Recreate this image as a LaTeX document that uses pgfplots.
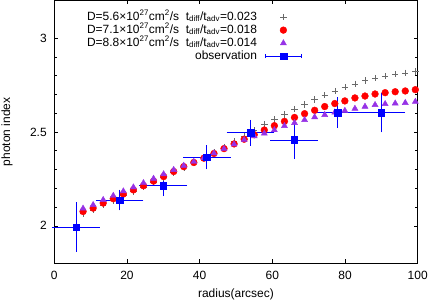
\documentclass[border=0pt]{standalone}
\usepackage{fontspec}
\setmainfont{Liberation Sans}
\usepackage{pgfplots}
\usepackage{pgfplotstable}
\pgfplotsset{compat=1.18}
\definecolor{plusgray}{RGB}{105,105,105}
\definecolor{tri}{RGB}{150,50,230}

\pgfplotstableread{
x y
7.94 2.066
10.71 2.085
13.48 2.111
16.25 2.135
19.02 2.160
21.79 2.183
24.56 2.207
27.33 2.232
30.10 2.257
32.87 2.284
35.64 2.310
38.41 2.336
41.18 2.363
43.95 2.391
46.72 2.419
49.49 2.448
52.26 2.478
55.03 2.508
57.80 2.539
60.57 2.567
63.34 2.593
66.11 2.621
68.88 2.646
71.65 2.672
74.42 2.695
77.19 2.718
79.96 2.738
82.73 2.756
85.50 2.774
88.27 2.787
91.04 2.798
93.81 2.807
96.58 2.815
99.35 2.821
}\plusdata

\pgfplotstableread{
x y
7.94 2.076
10.71 2.094
13.48 2.121
16.25 2.144
19.02 2.169
21.79 2.191
24.56 2.213
27.33 2.238
30.10 2.262
32.87 2.289
35.64 2.315
38.41 2.337
41.18 2.360
43.95 2.385
46.72 2.411
49.49 2.436
52.26 2.461
55.03 2.485
57.80 2.510
60.57 2.533
63.34 2.556
66.11 2.577
68.88 2.597
71.65 2.615
74.42 2.635
77.19 2.651
79.96 2.665
82.73 2.681
85.50 2.691
88.27 2.702
91.04 2.709
93.81 2.714
96.58 2.718
99.35 2.725
}\reddata

\pgfplotstableread{
x y
7.94 2.092
10.71 2.111
13.48 2.138
16.25 2.160
19.02 2.184
21.79 2.205
24.56 2.228
27.33 2.251
30.10 2.275
32.87 2.298
35.64 2.320
38.41 2.341
41.18 2.362
43.95 2.386
46.72 2.410
49.49 2.434
52.26 2.457
55.03 2.477
57.80 2.492
60.57 2.510
63.34 2.532
66.11 2.548
68.88 2.564
71.65 2.579
74.42 2.591
77.19 2.604
79.96 2.613
82.73 2.624
85.50 2.635
88.27 2.644
91.04 2.649
93.81 2.652
96.58 2.655
99.35 2.661
}\tridata

\pgfplotstableread{
x y ex ey
6 1.993 6 0.122
18 2.137 6 0.045
30 2.213 6 0.044
42 2.365 6 0.054
54 2.496 6 0.058
66 2.457 6 0.090
78 2.603 6 0.070
90 2.603 6 0.095
}\obsdata

\pgfplotsset{
  markimg/.style={legend image code/.code={
    \path[draw=none,fill=none] (0bp,-3bp) rectangle (36.6bp,3bp);
    \draw plot coordinates {(18.3bp,0bp)};}},
}

\begin{document}
\begin{tikzpicture}
\begin{axis}[
  scale only axis, width=363.5bp, height=262.8bp,
  xmin=0, xmax=100, ymin=1.8, ymax=3.2,
  xtick={0,20,...,100}, ytick={2,2.5,3}, minor y tick num=4,
  tick align=inside, major tick length=4bp, minor tick length=2.5bp,
  axis line style={line width=0.8bp},
  every tick/.style={black, line width=0.5bp},
  tick label style={font=\fontsize{12}{14}\selectfont},
  xticklabel style={yshift=-4.5bp},
  yticklabel style={xshift=-4bp},
  /pgf/number format/assume math mode=true,
  xlabel={radius(arcsec)}, ylabel={photon index},
  label style={font=\fontsize{12}{14}\selectfont},
  xlabel style={at={(axis description cs:0.5,-0.118)}, anchor=center},
  ylabel style={at={(axis description cs:-0.13,0.5)}, anchor=center},
  clip=false,
  legend plot pos=right,
  legend cell align=right,
  legend style={draw=none, fill=none, at={(axis cs:68.25,3.142)}, anchor=north east,
    font=\fontsize{12}{13}\selectfont, inner sep=0pt, row sep=1.9bp, column sep=7.7bp,
    nodes={inner sep=0pt, text height=8.6bp, text depth=2.5bp}},
]
\addplot[only marks, mark=+, mark size=3.2bp, plusgray, mark options={line width=0.5bp}, markimg]
  table[x=x,y=y] {\plusdata};
\addlegendentry{D=5.6×10\textsuperscript{27}cm\textsuperscript{2}/s\ \ t\textsubscript{diff}/t\textsubscript{adv}=0.023}
\addplot[only marks, mark=*, mark size=3.4bp, red, mark options={draw=red, fill=red}, markimg]
  table[x=x,y=y] {\reddata};
\addlegendentry{D=7.1×10\textsuperscript{27}cm\textsuperscript{2}/s\ \ t\textsubscript{diff}/t\textsubscript{adv}=0.018}
\addplot[only marks, mark=triangle*, mark size=3.5bp, tri, mark options={draw=tri, fill=tri}, markimg]
  table[x=x,y=y] {\tridata};
\addlegendentry{D=8.8×10\textsuperscript{27}cm\textsuperscript{2}/s\ \ t\textsubscript{diff}/t\textsubscript{adv}=0.014}
\addplot[only marks, mark=square*, mark size=3.3bp, blue, mark options={draw=blue, fill=blue},
  error bars/.cd, x dir=both, x explicit, y dir=both, y explicit,
  error bar style={line width=0.8bp, blue},
  error mark options={blue, mark size=2bp, line width=0.8bp},
  /pgfplots/legend image code/.code={
    \draw[blue, line width=0.8bp] (0bp,0bp) -- (36.6bp,0bp);
    \draw[blue, line width=0.8bp] (0bp,-2bp) -- (0bp,2bp) (36.6bp,-2bp) -- (36.6bp,2bp);
    \fill[blue] (14.9bp,-3.3bp) rectangle (21.7bp,3.3bp);},
  ]
  table[x=x,y=y,x error=ex,y error=ey] {\obsdata};
\addlegendentry{observation}
\end{axis}
\pgfresetboundingbox
\useasboundingbox (-54.2bp,-36.7bp) rectangle (374.8bp,263.3bp);
\end{tikzpicture}
\end{document}
